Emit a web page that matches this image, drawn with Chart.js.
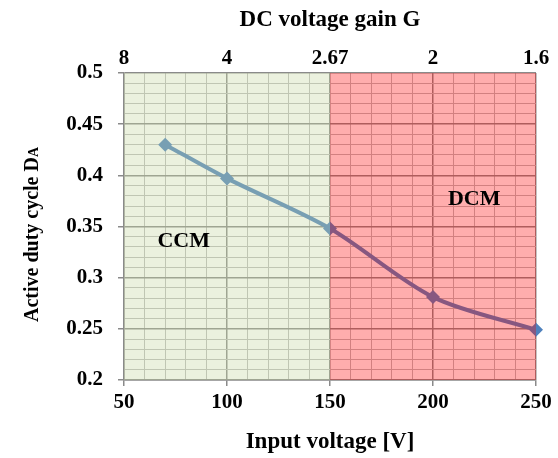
<!DOCTYPE html>
<html>
<head>
<meta charset="utf-8">
<script src="https://cdn.jsdelivr.net/npm/chart.js@4/dist/chart.umd.min.js"></script>
<style>
  html, body { margin: 0; padding: 0; background: #fff; }
  #wrap { width: 558px; height: 458px; }
</style>
</head>
<body>
<div id="wrap"><canvas id="chart" width="558" height="458"></canvas></div>
<script>
// input voltage [V] vs measured active duty cycle
const inputVoltage = [70, 100, 150, 200, 250];
const dutyCycle = [0.43, 0.397, 0.348, 0.281, 0.249];

// top axis: DC voltage gain shown above each bottom major tick
const gainLabels = ['8', '4', '2.67', '2', '1.6'];

// operating regions (shaded on top of the plot)
const regionNames = ['CCM', 'DCM'];
const regionStart = [50, 150];
const regionEnd = [150, 250];
const regionFill = ['rgba(198, 215, 161, 0.35)', 'rgba(255, 0, 0, 0.32)'];
const regionLabelX = [79, 220];
const regionLabelY = [0.336, 0.377];

const FONT = '"Liberation Serif", "Times New Roman", serif';
const MAJOR = '#8a8a8a';
const MINOR = '#bdbdbd';

const isMajorX = v => Math.round(v) % 50 === 0;
const isMajorY = v => Math.round(v * 100) % 5 === 0;

// draws the two shaded regions and their labels over the line
const regionsPlugin = {
  id: 'regions',
  afterDatasetsDraw(chart) {
    const { ctx, chartArea, scales } = chart;
    const x = scales.x, y = scales.y;
    ctx.save();
    regionNames.forEach((name, i) => {
      const l = x.getPixelForValue(regionStart[i]);
      const r = x.getPixelForValue(regionEnd[i]);
      ctx.fillStyle = regionFill[i];
      ctx.fillRect(l, chartArea.top, r - l, chartArea.bottom - chartArea.top);
    });
    ctx.fillStyle = '#000';
    ctx.font = 'bold 22px ' + FONT;
    ctx.textAlign = 'center';
    ctx.textBaseline = 'middle';
    regionNames.forEach((name, i) => {
      ctx.fillText(name, x.getPixelForValue(regionLabelX[i]), y.getPixelForValue(regionLabelY[i]));
    });
    ctx.restore();
  }
};

// y title with the small "A" after D
const yTitlePlugin = {
  id: 'ytitle',
  afterDraw(chart) {
    const { ctx, chartArea } = chart;
    const main = 'Active duty cycle D', sub = 'A';
    ctx.save();
    ctx.fillStyle = '#000';
    ctx.font = 'bold 20px ' + FONT;
    const w1 = ctx.measureText(main).width;
    ctx.font = 'bold 14px ' + FONT;
    const w2 = ctx.measureText(sub).width;
    const cy = (chartArea.top + chartArea.bottom) / 2;
    ctx.translate(38, cy + 8);
    ctx.rotate(-Math.PI / 2);
    ctx.textBaseline = 'alphabetic';
    ctx.textAlign = 'left';
    const start = -(w1 + w2) / 2;
    ctx.font = 'bold 20px ' + FONT;
    ctx.fillText(main, start, 0);
    ctx.font = 'bold 14px ' + FONT;
    ctx.fillText(sub, start + w1, 0);
    ctx.restore();
  }
};

const tickFont = { family: FONT, size: 21, weight: 'bold' };
const titleFont = { family: FONT, size: 23, weight: 'bold' };

new Chart(document.getElementById('chart'), {
  type: 'line',
  data: {
    datasets: [{
      data: inputVoltage.map((v, i) => ({ x: v, y: dutyCycle[i] })),
      borderColor: '#4f81bd',
      backgroundColor: '#4f81bd',
      borderWidth: 4,
      pointStyle: 'rectRot',
      pointRadius: 7,
      pointHoverRadius: 7,
      pointBorderWidth: 0,
      tension: 0.3,
      clip: false,
    }]
  },
  options: {
    responsive: false,
    animation: false,
    layout: { padding: { left: 0, right: 22, top: 0, bottom: 0 } },
    plugins: {
      legend: { display: false },
      tooltip: { enabled: false },
    },
    scales: {
      x: {
        type: 'linear',
        position: 'bottom',
        min: 50,
        max: 250,
        afterFit: s => { s.height = 78; },
        ticks: {
          stepSize: 10,
          autoSkip: false,
          maxRotation: 0,
          minRotation: 0,
          padding: 4,
          color: '#000',
          font: tickFont,
          callback: v => isMajorX(v) ? String(v) : '',
        },
        grid: {
          color: c => (c.tick && isMajorX(c.tick.value)) ? MAJOR : MINOR,
          lineWidth: c => (c.tick && isMajorX(c.tick.value)) ? 1.5 : 1,
          tickColor: c => (c.tick && isMajorX(c.tick.value)) ? MAJOR : 'rgba(0,0,0,0)',
          tickLength: 6,
        },
        border: { color: MAJOR, width: 1.5 },
        title: {
          display: true,
          text: 'Input voltage [V]',
          color: '#000',
          font: titleFont,
          padding: { top: 0, bottom: 2 },
        },
      },
      x2: {
        type: 'linear',
        position: 'top',
        min: 50,
        max: 250,
        afterFit: s => { s.height = 73; },
        ticks: {
          stepSize: 50,
          autoSkip: false,
          maxRotation: 0,
          padding: 2,
          color: '#000',
          font: tickFont,
          callback: (v, i) => gainLabels[i],
        },
        grid: { display: false, drawTicks: false },
        border: { display: false },
        title: {
          display: true,
          text: 'DC voltage gain G',
          color: '#000',
          font: titleFont,
          padding: { top: 6, bottom: 0 },
        },
      },
      y: {
        min: 0.2,
        max: 0.5,
        afterFit: s => { s.width = 124; },
        ticks: {
          stepSize: 0.01,
          autoSkip: false,
          padding: 15,
          color: '#000',
          font: tickFont,
          callback: v => isMajorY(v) ? String(Number(v.toFixed(2))) : '',
        },
        grid: {
          color: c => (c.tick && isMajorY(c.tick.value)) ? MAJOR : MINOR,
          lineWidth: c => (c.tick && isMajorY(c.tick.value)) ? 1.5 : 1,
          tickColor: c => (c.tick && isMajorY(c.tick.value)) ? MAJOR : 'rgba(0,0,0,0)',
          tickLength: 6,
        },
        border: { color: MAJOR, width: 1.5 },
      },
    },
  },
  plugins: [regionsPlugin, yTitlePlugin],
});
</script>
</body>
</html>
